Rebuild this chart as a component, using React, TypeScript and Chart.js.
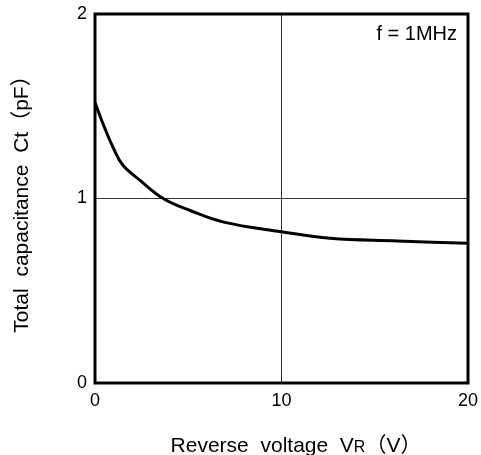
import React, { useEffect, useRef } from 'react';
import { Chart, registerables } from 'chart.js';

Chart.register(...registerables);

// Data
const voltage = [0, 0.45, 1, 1.5, 2.4, 3.66, 5.1, 6.9, 10, 12.6, 16.2, 20];
const capacitance = [1.52, 1.40, 1.27, 1.18, 1.10, 1.0, 0.935, 0.872, 0.82, 0.784, 0.77, 0.757];
const xTicks = [0, 10, 20];
const yTicks = [0, 1, 2];
const xTitleParts = ['Reverse  voltage  V', 'R', '（V）'];
const yTitle = 'Total  capacitance  Ct（pF）';
const note = 'f = 1MHz';

const FONT = '"Liberation Sans", Arial, Helvetica, sans-serif';
const CJK = '"Liberation Sans", "Noto Sans CJK JP", sans-serif';

const decorPlugin = {
  id: 'decor',
  afterDraw(chart: any) {
    const { ctx, chartArea } = chart;
    const { left, right, top, bottom } = chartArea;
    ctx.save();
    // frame
    ctx.strokeStyle = '#000';
    ctx.lineWidth = 3;
    ctx.strokeRect(left, top, right - left, bottom - top);

    ctx.fillStyle = '#000';
    // note
    ctx.font = `20px ${FONT}`;
    ctx.textAlign = 'right';
    ctx.textBaseline = 'alphabetic';
    ctx.fillText(note, right - 11, top + 26);

    // x title with subscript R
    const bigFont = `21px ${CJK}`;
    const smallFont = `16px ${CJK}`;
    ctx.textAlign = 'left';
    const widths = xTitleParts.map((p, i) => {
      ctx.font = i === 1 ? smallFont : bigFont;
      return ctx.measureText(p).width;
    });
    const total = widths.reduce((a, b) => a + b, 0);
    let x = 296 - total / 2;
    const baseY = 452;
    xTitleParts.forEach((p, i) => {
      ctx.font = i === 1 ? smallFont : bigFont;
      ctx.fillText(p, x, baseY);
      x += widths[i];
    });

    // y title rotated
    ctx.save();
    ctx.translate(28, 199);
    ctx.rotate(-Math.PI / 2);
    ctx.font = bigFont;
    ctx.textAlign = 'center';
    ctx.textBaseline = 'alphabetic';
    ctx.fillText(yTitle, 0, 0);
    ctx.restore();

    ctx.restore();
  },
};

export default function App() {
  const canvasRef = useRef<HTMLCanvasElement | null>(null);

  useEffect(() => {
    const canvas = canvasRef.current;
    if (!canvas) return;
    const chart = new Chart(canvas, {
      type: 'line',
      data: {
        datasets: [
          {
            data: voltage.map((v, i) => ({ x: v, y: capacitance[i] })),
            borderColor: '#000',
            borderWidth: 3,
            pointRadius: 0,
            tension: 0.4,
            fill: false,
          },
        ],
      },
      options: {
        responsive: false,
        animation: false,
        devicePixelRatio: 1,
        layout: { padding: { top: 14, right: 13, bottom: 0, left: 0 } },
        plugins: {
          legend: { display: false },
          tooltip: { enabled: false },
          title: { display: false },
        },
        scales: {
          x: {
            type: 'linear',
            min: 0,
            max: 20,
            afterBuildTicks: (s: any) => {
              s.ticks = xTicks.map((v) => ({ value: v }));
            },
            afterFit: (s: any) => {
              s.height = 72;
              s.paddingLeft = 0;
              s.paddingRight = 0;
            },
            grid: { color: '#333', lineWidth: 1, drawTicks: false },
            border: { display: false },
            ticks: {
              color: '#000',
              font: { family: FONT, size: 18 },
              padding: 7,
              maxRotation: 0,
              autoSkip: false,
            },
          },
          y: {
            type: 'linear',
            min: 0,
            max: 2,
            afterBuildTicks: (s: any) => {
              s.ticks = yTicks.map((v) => ({ value: v }));
            },
            afterFit: (s: any) => {
              s.width = 95;
              s.paddingTop = 0;
              s.paddingBottom = 0;
            },
            grid: { color: '#333', lineWidth: 1, drawTicks: false },
            border: { display: false },
            ticks: {
              color: '#000',
              font: { family: FONT, size: 18 },
              padding: 8,
              autoSkip: false,
            },
          },
        },
      },
      plugins: [decorPlugin],
    } as any);
    return () => chart.destroy();
  }, []);

  return (
    <div style={{ position: 'absolute', left: 0, top: 0, width: 481, height: 455, background: '#fff' }}>
      <canvas ref={canvasRef} width={481} height={455} style={{ display: 'block' }} />
    </div>
  );
}
